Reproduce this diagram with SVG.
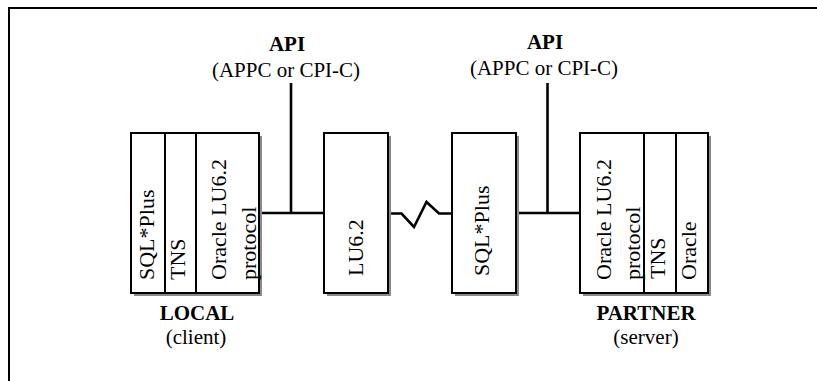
<svg xmlns="http://www.w3.org/2000/svg" width="817" height="381" viewBox="0 0 817 381">
<style>
text{font-family:"Liberation Serif","Times New Roman",serif;fill:#000}
.lbl{font-size:21px;text-anchor:middle}
.b{font-weight:bold}
.v{font-size:22px}
.cell{fill:#fff;stroke:#000;stroke-width:2}
.sh{fill:#8a8a8a}
.con{fill:none;stroke:#000;stroke-width:2.6}
.frame{fill:none;stroke:#000;stroke-width:2}
</style>
<rect width="817" height="381" fill="#fff"/>
<path class="frame" d="M9,381 V8 H817"/>

<g id="connectors">
<line class="con" x1="259" y1="213" x2="324" y2="213"/>
<line class="con" x1="291" y1="83" x2="291" y2="213"/>
<polyline class="con" points="388,213.5 401.5,213.5 414,227 426.5,202 439,213.5 452,213.5"/>
<line class="con" x1="516" y1="213" x2="580" y2="213"/>
<line class="con" x1="547.5" y1="83" x2="547.5" y2="213"/>
</g>

<g id="api-left">
<text class="lbl b" x="287" y="51">API</text>
<text class="lbl" x="286" y="77">(APPC or CPI-C)</text>
</g>
<g id="api-right">
<text class="lbl b" x="545" y="48.5">API</text>
<text class="lbl" x="544" y="75">(APPC or CPI-C)</text>
</g>

<g id="local">
<rect class="sh" x="134" y="136" width="128" height="160"/>
<rect class="cell" x="131" y="133" width="34" height="160"/>
<rect class="cell" x="165" y="133" width="31" height="160"/>
<rect class="cell" x="196" y="133" width="63" height="160"/>
<text class="v" transform="translate(153.5,280) rotate(-90)">SQL*Plus</text>
<text class="v" transform="translate(184.5,280) rotate(-90)">TNS</text>
<text class="v" transform="translate(226,280) rotate(-90)">Oracle LU6.2</text>
<text class="v" transform="translate(255.5,280) rotate(-90)">protocol</text>
<text class="lbl b" x="197" y="319.5">LOCAL</text>
<text class="lbl" x="196" y="343.5">(client)</text>
</g>

<g id="lu62">
<rect class="sh" x="327" y="136" width="64" height="160"/>
<rect class="cell" x="324" y="133" width="64" height="160"/>
<text class="v" transform="translate(363,276) rotate(-90)">LU6.2</text>
</g>

<g id="sqlplus">
<rect class="sh" x="455" y="136" width="64" height="160"/>
<rect class="cell" x="452" y="133" width="64" height="160"/>
<text class="v" transform="translate(489,276) rotate(-90)">SQL*Plus</text>
</g>

<g id="partner">
<rect class="sh" x="583" y="136" width="128" height="160"/>
<rect class="cell" x="580" y="133" width="64" height="160"/>
<rect class="cell" x="644" y="133" width="32" height="160"/>
<rect class="cell" x="676" y="133" width="32" height="160"/>
<text class="v" transform="translate(610.5,280) rotate(-90)">Oracle LU6.2</text>
<text class="v" transform="translate(640,280) rotate(-90)">protocol</text>
<text class="v" transform="translate(665,279) rotate(-90)">TNS</text>
<text class="v" transform="translate(696,280) rotate(-90)">Oracle</text>
<text class="lbl b" x="646" y="319.5">PARTNER</text>
<text class="lbl" x="646" y="343.5">(server)</text>
</g>
</svg>
